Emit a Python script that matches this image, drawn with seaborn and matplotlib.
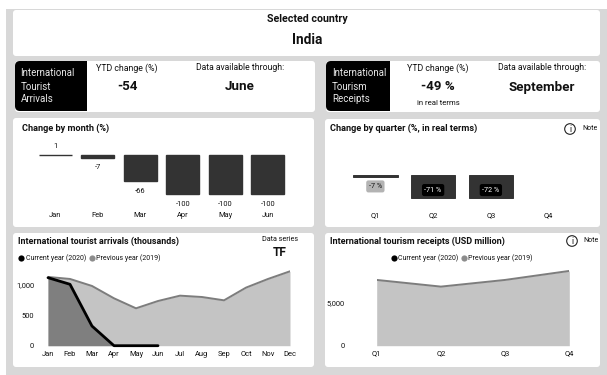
import matplotlib
matplotlib.use("Agg")
import matplotlib.pyplot as plt
from matplotlib.patches import FancyBboxPatch, Rectangle, Circle
import pandas as pd
import seaborn as sns

months_short = ["Jan", "Feb", "Mar", "Apr", "May", "Jun"]
month_change = [1, -7, -66, -100, -100, -100]
quarters = ["Q1", "Q2", "Q3", "Q4"]
quarter_change = [-7, -71, -72, None]
months = ["Jan", "Feb", "Mar", "Apr", "May", "Jun", "Jul", "Aug", "Sep", "Oct", "Nov", "Dec"]
arrivals_2019 = [1120, 1087, 973, 772, 609, 728, 815, 793, 739, 946, 1087, 1212]
arrivals_2020 = [1108, 1000, 320, 0, 0, 0]
receipts_2019 = [7577, 6808, 7577, 8615]

W, H = 607, 375
sns.set_theme(style="white")
plt.rcParams["font.family"] = ["Roboto", "DejaVu Sans"]
fig = plt.figure(figsize=(W / 100, H / 100), dpi=100, facecolor="white")

TEXT = "#111111"
BG = "#d8d8d8"
DARK = "#333333"
LINE = "#7d7d7d"
FILL = "#c4c4c4"


def axes_px(x0, y0, x1, y1, zorder=2):
    ax = fig.add_axes([x0 / W, 1 - y1 / H, (x1 - x0) / W, (y1 - y0) / H], zorder=zorder)
    ax.patch.set_alpha(0)
    sns.despine(ax=ax, left=True, bottom=True)
    return ax


# Page layer in pixel coordinates: background, cards and static text
page = fig.add_axes([0, 0, 1, 1], zorder=1)
page.set_xlim(0, W)
page.set_ylim(H, 0)
page.axis("off")
page.add_patch(Rectangle((6, 9), W - 6, H - 9, fc=BG, ec="none"))


def card(x0, y0, x1, y1, color="white", r=3):
    page.add_patch(FancyBboxPatch((x0 + r, y0 + r), x1 - x0 - 2 * r, y1 - y0 - 2 * r,
                                  boxstyle=f"round,pad={r},rounding_size={r}", fc=color, ec="none"))


def label(x, y, s, size=5.8, weight="normal", ha="center", color=TEXT, ax=page):
    ax.text(x, y, s, fontsize=size, fontweight=weight, ha=ha, va="center", color=color)


for box in [(13, 10, 600, 56), (15, 61, 315, 112), (13, 118, 314, 227), (13, 233, 314, 367),
            (326, 61, 600, 112), (325, 119, 600, 227), (325, 233, 600, 367)]:
    card(*box)
card(15, 61, 87, 111, "black", r=5)
card(326, 61, 390, 111, "black", r=5)
page.add_patch(Rectangle((80, 61), 7, 50, fc="black", ec="none"))
page.add_patch(Rectangle((383, 61), 7, 50, fc="black", ec="none"))

label(307, 18.5, "Selected country", 7.7, "bold")
label(307, 40.5, "India", 9.8, "bold")

for y, s in zip([73.5, 86.5, 99], ["International", "Tourist", "Arrivals"]):
    label(20.5, y, s, 7.0, ha="left", color="#e8e8e8")
for y, s in zip([73.5, 86.5, 99], ["International", "Tourism", "Receipts"]):
    label(332, y, s, 7.0, ha="left", color="#e8e8e8")

label(127, 68, "YTD change (%)", 6.3)
label(240.5, 68, "Data available through:", 6.2)
label(127, 87, "-54", 9.6, "bold")
label(240, 87, "June", 9.6, "bold")
label(438, 68, "YTD change (%)", 6.3)
label(542, 68, "Data available through:", 6.2)
label(438, 87, "-49 %", 9.6, "bold")
label(542, 87, "September", 9.6, "bold")
label(438, 103, "in real terms", 5.6)

label(22, 128.5, "Change by month (%)", 6.6, "bold", ha="left")
label(330, 128.5, "Change by quarter (%, in real terms)", 6.6, "bold", ha="left")
label(18.5, 241, "International tourist arrivals (thousands)", 6.4, "bold", ha="left")
label(330, 241, "International tourism receipts (USD million)", 6.5, "bold", ha="left")
label(280, 239.5, "Data series", 5.2)
label(280, 252, "TF", 8.6, "bold")

for cx, cy, tx in [(570, 129, 582), (572, 241, 583)]:
    page.add_patch(Circle((cx, cy), 5.3, fc="white", ec="#222222", lw=0.8))
    label(cx, cy, "i", 6.2)
    label(tx, cy, "Note", 5.0, ha="left")


def legend_row(x0, x1, t0, t1, y):
    page.scatter([x0], [y], s=20, c="black", linewidths=0, zorder=3)
    label(t0, y, "Current year (2020)", 5.0, ha="left")
    page.scatter([x1], [y], s=20, c="#8c8c8c", linewidths=0, zorder=3)
    label(t1, y, "Previous year (2019)", 5.0, ha="left")


legend_row(21, 92, 25.5, 96, 258)
legend_row(394, 463.5, 398, 468, 258)


def style_axis(ax, size):
    ax.set_xlabel("")
    ax.set_ylabel("")
    ax.tick_params(axis="both", length=0, labelsize=size, labelcolor=TEXT)


# Monthly change bars: zero line at y=155 px, 0.395 px per percentage point
ax = axes_px(34, 147, 289, 199)
df_month = pd.DataFrame({"month": months_short, "change": month_change})
sns.barplot(df_month, x="month", y="change", color=DARK, saturation=1, width=0.78,
            edgecolor=DARK, linewidth=1.0, ax=ax)
ax.set_xlim(-0.5, 5.5)
ax.set_ylim(-(199 - 155) / 0.395, (155 - 147) / 0.395)
ax.set_yticks([])
style_axis(ax, 5.4)
ax.tick_params(axis="x", pad=9.5)
for i, v in enumerate(month_change):
    off = 5.6 if v > 0 else -7.2
    ax.annotate(str(v), (i, v), xytext=(0, off), textcoords="offset points",
                ha="center", va="center", fontsize=5.4, color=TEXT)

# Quarterly change bars: zero line at y=174.5 px, 0.331 px per percentage point
ax = axes_px(346.5, 170, 577.5, 204)
df_quarter = pd.DataFrame({"quarter": quarters, "change": quarter_change})
sns.barplot(df_quarter, x="quarter", y="change", color=DARK, saturation=1, width=0.77,
            edgecolor=DARK, linewidth=0.7, ax=ax)
ax.set_xlim(-0.5, 3.5)
ax.set_ylim(-(204 - 174.5) / 0.331, (174.5 - 170) / 0.331)
ax.set_yticks([])
style_axis(ax, 5.4)
ax.tick_params(axis="x", pad=6)
for i, v in enumerate(quarter_change):
    if v is None:
        continue
    shallow = v > -20
    y_text = v - 29 if shallow else -47
    ax.text(i, y_text, f"{v} %", ha="center", va="center", fontsize=5.2,
            color=TEXT if shallow else "white",
            bbox=dict(boxstyle="round,pad=0.35,rounding_size=0.3",
                      fc="#b3b3b3" if shallow else "black", ec="none"))

# Arrivals area chart: zero at y=345.7 px, 61.4 px per thousand
ax = axes_px(48, 262, 290, 345.7)
df_prev = pd.DataFrame({"month": months, "value": arrivals_2019})
df_cur = pd.DataFrame({"month": months_short, "value": arrivals_2020})
xs_prev = range(len(months))
xs_cur = range(len(months_short))
ax.fill_between(xs_prev, arrivals_2019, 0, color=FILL, lw=0)
ax.fill_between(xs_cur, arrivals_2020, 0, color="#7f7f7f", lw=0)
sns.lineplot(df_prev, x="month", y="value", color=LINE, lw=1.4, sort=False, ax=ax)
sns.lineplot(df_cur, x="month", y="value", color="black", lw=2.0, sort=False, ax=ax,
             solid_capstyle="round", clip_on=False)
ax.set_xlim(0, 11)
ax.set_ylim(0, 83.7 / 0.0614)
ax.set_yticks([0, 500, 1000], ["0", "500", "1,000"])
ax.set_xticks(list(xs_prev), months)
style_axis(ax, 5.4)
ax.tick_params(axis="x", pad=3.5)
ax.tick_params(axis="y", pad=10)

# Receipts area chart: zero at y=345.7 px, 43.4 px per 5,000
ax = axes_px(376.7, 262, 569.3, 345.7)
df_receipts = pd.DataFrame({"quarter": quarters, "value": receipts_2019})
ax.fill_between(range(4), receipts_2019, 0, color=FILL, lw=0)
sns.lineplot(df_receipts, x="quarter", y="value", color=LINE, lw=1.4, sort=False, ax=ax)
ax.set_xlim(0, 3)
ax.set_ylim(0, 83.7 / 43.4 * 5000)
ax.set_yticks([0, 5000], ["0", "5,000"])
ax.set_xticks(range(4), quarters)
style_axis(ax, 5.4)
ax.tick_params(axis="x", pad=3.5)
ax.tick_params(axis="y", pad=23)

fig.savefig("out.png", dpi=100, facecolor="white")
